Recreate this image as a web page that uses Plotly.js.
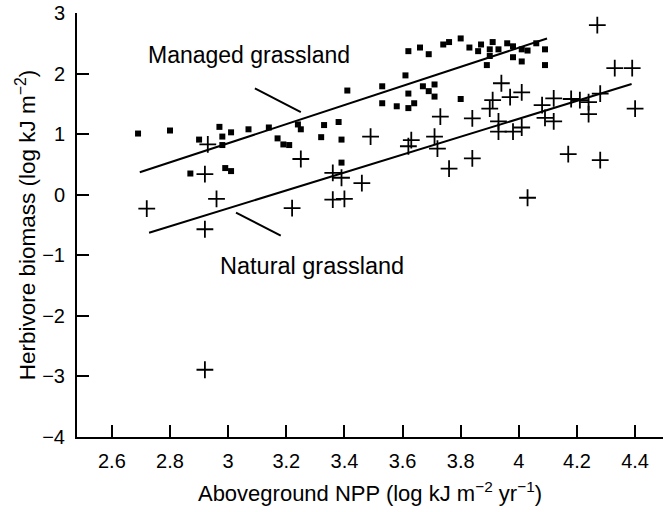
<!DOCTYPE html>
<html>
<head>
<meta charset="utf-8">
<script src="https://cdn.plot.ly/plotly-3.0.1.min.js"></script>
<style>html,body{margin:0;padding:0;background:#fff;}#chart{width:663px;height:512px;}</style>
</head>
<body>
<div id="chart"></div>
<script>
// Managed grassland (squares)
const managedNPP = [2.69,2.80,2.97,2.98,3.01,3.07,2.90,2.98,2.87,2.99,3.01,3.14,3.17,3.19,3.21,3.24,3.25,3.33,3.38,3.32,3.39,3.39,3.41,3.53,3.53,3.58,3.61,3.62,3.62,3.64,3.67,3.69,3.71,3.71,3.80,3.62,3.66,3.69,3.74,3.76,3.80,3.83,3.86,3.87,3.91,3.90,3.93,3.90,3.89,3.96,3.98,4.01,4.03,4.06,4.09,3.98,4.01,4.09];
const managedBiomass = [1.01,1.06,1.12,0.96,1.03,1.08,0.91,0.82,0.35,0.44,0.39,1.11,0.93,0.83,0.82,1.16,1.08,1.15,1.20,0.95,0.91,0.53,1.72,1.79,1.51,1.46,1.97,1.67,1.43,1.51,1.79,1.71,1.82,1.62,1.58,2.37,2.43,2.32,2.48,2.52,2.58,2.43,2.37,2.48,2.52,2.40,2.40,2.29,2.14,2.50,2.45,2.40,2.38,2.50,2.40,2.27,2.20,2.14];
// Natural grassland (crosses)
const naturalNPP = [2.93,2.92,2.96,2.72,2.92,2.92,3.22,3.25,3.36,3.39,3.36,3.40,3.46,3.49,3.63,3.62,3.71,3.72,3.73,3.76,3.84,3.84,3.94,3.91,3.90,3.97,4.01,3.93,3.93,3.98,4.01,4.03,4.08,4.09,4.12,4.12,4.17,4.18,4.21,4.24,4.24,4.28,4.28,4.27,4.33,4.39,4.40];
const naturalBiomass = [0.83,0.34,-0.07,-0.23,-0.57,-2.89,-0.22,0.59,0.36,0.28,-0.08,-0.07,0.19,0.96,0.90,0.80,0.96,0.76,1.29,0.43,1.26,0.60,1.84,1.56,1.42,1.61,1.69,1.21,1.04,1.04,1.11,-0.05,1.48,1.27,1.21,1.59,0.67,1.58,1.56,1.53,1.33,1.67,0.57,2.80,2.09,2.09,1.42];
// Fitted lines
const managedFitX = [2.696, 4.097];
const managedFitY = [0.37, 2.58];
const naturalFitX = [2.728, 4.388];
const naturalFitY = [-0.627, 1.827];
// Label leader lines
const managedLeaderX = [3.092, 3.250];
const managedLeaderY = [1.757, 1.365];
const naturalLeaderX = [3.027, 3.181];
const naturalLeaderY = [-0.297, -0.674];
// Ticks
const xTicks = [2.6,2.8,3.0,3.2,3.4,3.6,3.8,4.0,4.2,4.4];
const xTickText = ['2.6','2.8','3','3.2','3.4','3.6','3.8','4','4.2','4.4'];
const yTicks = [-4,-3,-2,-1,0,1,2,3];

const FONT = 'Liberation Sans, Arial, Helvetica, sans-serif';
const lineStyle = {color:'#000', width:2};

const traces = [
  {x: managedNPP, y: managedBiomass, mode:'markers', type:'scatter',
   marker:{symbol:'square', size:6, color:'#000'}},
  {x: naturalNPP, y: naturalBiomass, mode:'markers', type:'scatter',
   marker:{symbol:'cross-thin-open', size:12, color:'#000', line:{color:'#000', width:1.8}}},
  {x: managedFitX, y: managedFitY, mode:'lines', type:'scatter', line:lineStyle},
  {x: naturalFitX, y: naturalFitY, mode:'lines', type:'scatter', line:lineStyle},
  {x: managedLeaderX, y: managedLeaderY, mode:'lines', type:'scatter', line:lineStyle},
  {x: naturalLeaderX, y: naturalLeaderY, mode:'lines', type:'scatter', line:lineStyle}
];

const layout = {
  width:663, height:512,
  margin:{l:77, r:0, t:13, b:75, pad:0},
  paper_bgcolor:'#fff', plot_bgcolor:'#fff',
  showlegend:false,
  font:{family:FONT, color:'#000', size:20},
  xaxis:{
    range:[2.48, 4.496], showgrid:false, zeroline:false,
    showline:true, linecolor:'#000', linewidth:2,
    ticks:'inside', ticklen:12, tickwidth:2, tickcolor:'#000',
    tickvals:xTicks, ticktext:xTickText,
    tickfont:{family:FONT, size:20, color:'#000'},
    ticklabelstandoff:5,
    title:{text:'Aboveground NPP (log kJ m<sup>−2</sup> yr<sup>−1</sup>)', font:{family:FONT, size:22, color:'#000'}, standoff:15},
    automargin:false
  },
  yaxis:{
    range:[-4, 3], showgrid:false, zeroline:false,
    showline:true, linecolor:'#000', linewidth:2,
    ticks:'inside', ticklen:12, tickwidth:2, tickcolor:'#000',
    tickvals:yTicks,
    tickfont:{family:FONT, size:20, color:'#000'},
    ticklabelstandoff:6,
    title:{text:'Herbivore biomass (log kJ m<sup>−2</sup>)', font:{family:FONT, size:22.5, color:'#000'}, standoff:0},
    automargin:false
  },
  annotations:[
    {x:3.073, y:2.31, xref:'x', yref:'y', text:'Managed grassland', showarrow:false,
     font:{family:FONT, size:23, color:'#000'}, xanchor:'center', yanchor:'middle'},
    {x:3.290, y:-1.18, xref:'x', yref:'y', text:'Natural grassland', showarrow:false,
     font:{family:FONT, size:23.5, color:'#000'}, xanchor:'center', yanchor:'middle'}
  ]
};

Plotly.newPlot('chart', traces, layout, {displayModeBar:false, staticPlot:true});
</script>
</body>
</html>
